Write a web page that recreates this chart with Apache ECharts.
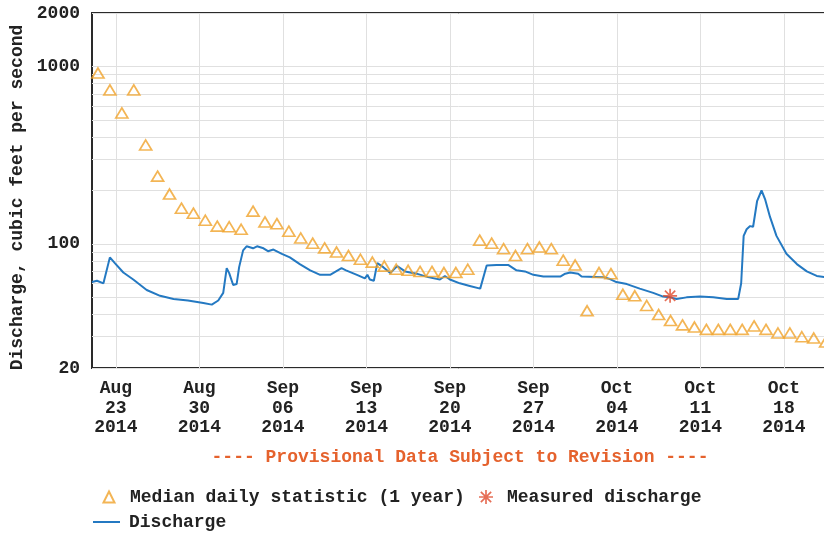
<!DOCTYPE html>
<html>
<head>
<meta charset="utf-8">
<title>Discharge, cubic feet per second</title>
<script src="https://cdn.jsdelivr.net/npm/echarts@6.0.0/dist/echarts.min.js"></script>
<style>
  html, body { margin: 0; padding: 0; background: #ffffff; }
  #chart { width: 824px; height: 535px; }
</style>
</head>
<body>
<div id="chart"></div>
<script>
// Daily median statistic (1 year), one value per day
const medianDays = [
  '2014-08-21','2014-08-22','2014-08-23','2014-08-24','2014-08-25','2014-08-26','2014-08-27',
  '2014-08-28','2014-08-29','2014-08-30','2014-08-31','2014-09-01','2014-09-02','2014-09-03',
  '2014-09-04','2014-09-05','2014-09-06','2014-09-07','2014-09-08','2014-09-09','2014-09-10',
  '2014-09-11','2014-09-12','2014-09-13','2014-09-14','2014-09-15','2014-09-16','2014-09-17',
  '2014-09-18','2014-09-19','2014-09-20','2014-09-21','2014-09-22','2014-09-23','2014-09-24',
  '2014-09-25','2014-09-26','2014-09-27','2014-09-28','2014-09-29','2014-09-30','2014-10-01',
  '2014-10-02','2014-10-03','2014-10-04','2014-10-05','2014-10-06','2014-10-07','2014-10-08',
  '2014-10-09','2014-10-10','2014-10-11','2014-10-12','2014-10-13','2014-10-14','2014-10-15',
  '2014-10-16','2014-10-17','2014-10-18','2014-10-19','2014-10-20','2014-10-21'
];
const medianValues = [
  918, 737, 547, 737, 361, 241, 191,
  159, 149, 136, 126, 125, 121, 153,
  133, 130, 118, 108, 101, 95, 90,
  86, 82, 79, 75, 72, 71, 70,
  70, 69, 69, 72, 105, 101, 94,
  86, 94, 96, 94, 81, 76, 42,
  69, 68, 52, 51, 45, 40, 37,
  35, 34, 33, 33, 33, 33, 34.5,
  33, 31.5, 31.5, 30, 29.5, 28
];

// Instantaneous discharge
const dischargeTimes = [
  '2014-08-21 00:00','2014-08-21 10:00','2014-08-21 23:00','2014-08-22 12:00','2014-08-22 22:00',
  '2014-08-23 15:00','2014-08-24 11:00','2014-08-25 14:00','2014-08-26 17:00','2014-08-27 20:00',
  '2014-08-29 01:00','2014-08-30 08:00','2014-08-31 01:00','2014-08-31 14:00','2014-09-01 00:00',
  '2014-09-01 07:00','2014-09-01 12:00','2014-09-01 20:00','2014-09-02 03:00','2014-09-02 08:00',
  '2014-09-02 16:00','2014-09-02 23:00','2014-09-03 12:00','2014-09-03 20:00','2014-09-04 09:00',
  '2014-09-04 18:00','2014-09-05 05:00','2014-09-05 22:00','2014-09-06 14:00','2014-09-07 10:00',
  '2014-09-08 07:00','2014-09-09 03:00','2014-09-09 23:00','2014-09-10 22:00','2014-09-11 07:00',
  '2014-09-12 05:00','2014-09-12 21:00','2014-09-13 02:00','2014-09-13 07:00','2014-09-13 15:00',
  '2014-09-13 22:00','2014-09-14 10:00','2014-09-15 00:00','2014-09-15 14:00','2014-09-16 06:00',
  '2014-09-17 05:00','2014-09-18 04:00','2014-09-19 04:00','2014-09-19 14:00','2014-09-20 00:00',
  '2014-09-20 20:00','2014-09-21 16:00','2014-09-22 13:00','2014-09-23 02:00','2014-09-23 22:00',
  '2014-09-24 22:00','2014-09-25 14:00','2014-09-26 07:00','2014-09-27 00:00','2014-09-27 20:00',
  '2014-09-29 06:00','2014-09-29 16:00','2014-09-30 02:00','2014-09-30 18:00','2014-10-01 01:00',
  '2014-10-02 21:00','2014-10-03 10:00','2014-10-03 23:00','2014-10-04 20:00','2014-10-05 22:00',
  '2014-10-07 01:00','2014-10-07 21:00','2014-10-08 11:00','2014-10-09 00:00','2014-10-09 20:00',
  '2014-10-10 23:00','2014-10-12 02:00','2014-10-13 05:00','2014-10-14 04:00','2014-10-14 10:00',
  '2014-10-14 15:00','2014-10-14 21:00','2014-10-15 04:00','2014-10-15 10:00','2014-10-15 18:00',
  '2014-10-16 03:00','2014-10-16 10:00','2014-10-16 20:00','2014-10-17 09:00','2014-10-18 05:00',
  '2014-10-19 02:00','2014-10-19 22:00','2014-10-20 18:00','2014-10-21 09:00'
];
const dischargeValues = [
  61, 62, 60, 84, 78,
  69, 63, 55, 51, 49,
  48, 46.5, 45.5, 48, 53,
  73, 68.5, 58.7, 59.4, 74,
  92, 97, 94.5, 97, 94.5,
  91, 93, 88, 84, 77,
  71, 67, 67, 73, 71,
  67, 64, 67, 63, 62,
  78, 74, 68.5, 75, 70,
  68, 65, 63, 66, 63,
  60, 58, 56, 75.5, 76,
  76, 71, 70, 67, 65.5,
  65.5, 68, 69, 68, 65.5,
  65, 63.4, 61, 59.4, 56,
  53, 50.5, 50, 49, 50,
  50.5, 50, 49, 49, 60,
  111, 121, 126, 125, 174,
  200, 179, 142, 111, 88,
  77, 70, 66, 65
];

// Field measurement
const measuredTimes = ['2014-10-08 11:00'];
const measuredValues = [51];

// Axis ticks
const xTickDates = ['2014-08-23','2014-08-30','2014-09-06','2014-09-13','2014-09-20',
                    '2014-09-27','2014-10-04','2014-10-11','2014-10-18'];
const yTickLabels = [20, 100, 1000, 2000];
const yGridValues = [20, 30, 40, 50, 60, 70, 80, 90, 100,
                     200, 300, 400, 500, 600, 700, 800, 900, 1000, 2000];
const monthNames = ['Jan','Feb','Mar','Apr','May','Jun','Jul','Aug','Sep','Oct','Nov','Dec'];

const FONT = "'Liberation Mono', 'DejaVu Sans Mono', monospace";
const FS = 18;
// Local-time timestamp from 'YYYY-MM-DD' or 'YYYY-MM-DD HH:mm'
function toTime(s) {
  const m = s.match(/(\d+)-(\d+)-(\d+)(?: (\d+):(\d+))?/);
  return new Date(+m[1], +m[2] - 1, +m[3], +(m[4] || 0), +(m[5] || 0)).getTime();
}
const pad2 = n => (n < 10 ? '0' : '') + n;

const chart = echarts.init(document.getElementById('chart'), null, { renderer: 'canvas' });

// eight-spoke asterisk for field measurements
const asterisk = 'path://M8.8,0 L11.2,0 L11.2,20 L8.8,20 Z M0,8.8 L20,8.8 L20,11.2 L0,11.2 Z ' +
  'M1.8,3.5 L3.5,1.8 L18.2,16.5 L16.5,18.2 Z M16.5,1.8 L18.2,3.5 L3.5,18.2 L1.8,16.5 Z';

const legendText = { fontFamily: FONT, fontWeight: 'bold', fontSize: FS, color: '#222' };
const xTicks = xTickDates.map(toTime);

chart.setOption({
  animation: false,
  backgroundColor: '#ffffff',
  grid: {
    left: 92, top: 13, right: -3, bottom: 167,
    outerBoundsMode: 'none',
    containLabel: false,
    show: true, borderColor: '#2a2a2a', borderWidth: 2, backgroundColor: 'transparent'
  },
  xAxis: {
    type: 'value',
    min: toTime('2014-08-21 00:00'),
    max: toTime('2014-10-21 14:40'),
    axisLine: { show: false },
    axisTick: { show: false, customValues: xTicks },
    splitLine: { show: true, lineStyle: { color: '#e0e0e0', width: 1 } },
    axisLabel: {
      customValues: xTicks,
      margin: 11,
      fontFamily: FONT, fontWeight: 'bold', fontSize: FS, lineHeight: 19.5, color: '#222',
      formatter: function (v) {
        const d = new Date(v);
        return monthNames[d.getMonth()] + '\n' + pad2(d.getDate()) + '\n' + d.getFullYear();
      }
    }
  },
  yAxis: {
    type: 'log',
    logBase: 10,
    min: 20,
    max: 2000,
    name: 'Discharge, cubic feet per second',
    nameLocation: 'middle',
    nameGap: 66,
    nameRotate: 90,
    nameMoveOverlap: false,
    nameTextStyle: { fontFamily: FONT, fontWeight: 'bold', fontSize: FS, color: '#222', padding: [0, 14, 0, 0] },
    axisLine: { show: false },
    axisTick: { show: false, customValues: yGridValues },
    splitLine: { show: true, lineStyle: { color: '#e0e0e0', width: 1 } },
    axisLabel: {
      customValues: yTickLabels,
      margin: 12,
      fontFamily: FONT, fontWeight: 'bold', fontSize: FS, color: '#222',
      formatter: v => String(Math.round(v))
    }
  },
  legend: [
    {
      left: 102.5, top: 488, padding: 0, itemWidth: 11, itemHeight: 11,
      data: ['Median daily statistic (1 year)'],
      textStyle: Object.assign({ padding: [0, 0, 0, 10.5] }, legendText)
    },
    {
      left: 479, top: 488, padding: 0, itemWidth: 14, itemHeight: 14,
      data: ['Measured discharge'],
      textStyle: Object.assign({ padding: [0, 0, 0, 9] }, legendText)
    },
    {
      left: 93, top: 513, padding: 0, itemWidth: 27, itemHeight: 2,
      data: [{ name: 'Discharge', icon: 'rect' }],
      textStyle: Object.assign({ padding: [0, 0, 0, 4] }, legendText)
    }
  ],
  graphic: [
    {
      type: 'text',
      x: 460, y: 457,
      style: {
        text: '---- Provisional Data Subject to Revision ----',
        font: 'bold ' + FS + 'px ' + FONT,
        fill: '#e5622d',
        textAlign: 'center',
        textVerticalAlign: 'middle'
      }
    }
  ],
  series: [
    {
      name: 'Discharge',
      type: 'line',
      symbol: 'none',
      z: 2,
      lineStyle: { color: '#2479c2', width: 2 },
      itemStyle: { color: '#2479c2' },
      data: dischargeTimes.map((t, i) => [toTime(t), dischargeValues[i]])
    },
    {
      name: 'Median daily statistic (1 year)',
      type: 'scatter',
      symbol: 'triangle',
      symbolSize: [12, 10],
      z: 3,
      itemStyle: { color: 'rgba(255,255,255,0)', borderColor: '#f0a22a', borderWidth: 1.7 },
      data: medianDays.map((d, i) => [toTime(d + ' 12:00'), medianValues[i]])
    },
    {
      name: 'Measured discharge',
      type: 'scatter',
      symbol: asterisk,
      symbolSize: 14,
      z: 4,
      itemStyle: { color: '#e04a2c' },
      data: measuredTimes.map((t, i) => [toTime(t), measuredValues[i]])
    }
  ]
});
</script>
</body>
</html>
